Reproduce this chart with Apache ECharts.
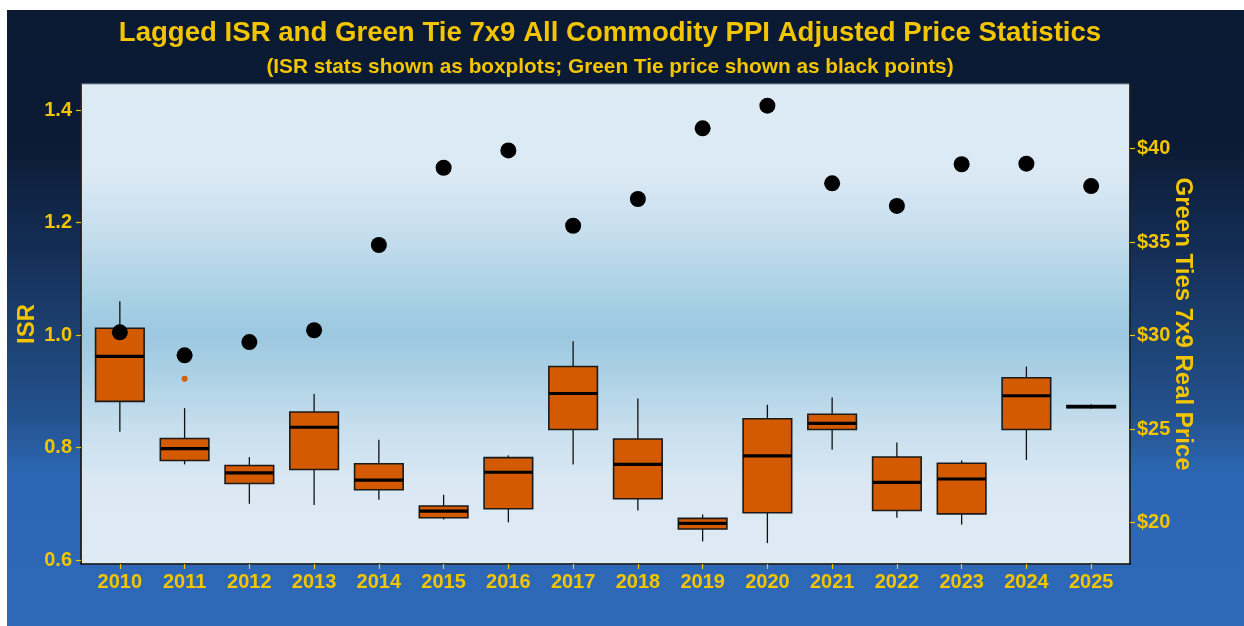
<!DOCTYPE html>
<html>
<head>
<meta charset="utf-8">
<script src="https://cdn.jsdelivr.net/npm/echarts@6/dist/echarts.min.js"></script>
<style>
  html, body { margin: 0; padding: 0; background: #ffffff; }
  #chart { width: 1244px; height: 626px; }
</style>
</head>
<body>
<div id="chart"></div>
<script>
// ---- Data ----
const years = ['2010','2011','2012','2013','2014','2015','2016','2017','2018','2019','2020','2021','2022','2023','2024','2025'];
const isrMin    = [0.828, 0.770, 0.700, 0.698, 0.707, 0.672, 0.667, 0.770, 0.688, 0.633, 0.630, 0.796, 0.675, 0.663, 0.778, 0.869];
const isrQ1     = [0.882, 0.777, 0.736, 0.761, 0.725, 0.675, 0.691, 0.832, 0.709, 0.655, 0.684, 0.832, 0.688, 0.682, 0.832, 0.8708];
const isrMedian = [0.962, 0.798, 0.755, 0.836, 0.742, 0.687, 0.756, 0.896, 0.770, 0.665, 0.785, 0.843, 0.738, 0.744, 0.892, 0.8728];
const isrQ3     = [1.012, 0.816, 0.768, 0.863, 0.771, 0.696, 0.782, 0.944, 0.815, 0.674, 0.851, 0.859, 0.783, 0.772, 0.924, 0.8748];
const isrMax    = [1.060, 0.870, 0.783, 0.895, 0.814, 0.716, 0.786, 0.989, 0.887, 0.681, 0.876, 0.889, 0.809, 0.777, 0.944, 0.877];
const outlierYears  = ['2011'];
const outlierValues = [0.922];
const greenTiePrice = [30.17, 28.94, 29.65, 30.28, 34.84, 38.97, 39.90, 35.87, 37.30, 41.08, 42.29, 38.14, 36.93, 39.16, 39.19, 37.99];
const isrTicks = [0.6, 0.8, 1.0, 1.2, 1.4];
const priceTicks = [20, 25, 30, 35, 40];

// ---- Build series data ----
const idx = years.map((_, i) => i);
const boxData = idx.map(i => [i, isrMin[i], isrQ1[i], isrMedian[i], isrQ3[i], isrMax[i]]);
const priceData = idx.map(i => [i, greenTiePrice[i]]);
const outlierData = outlierYears.map((y, k) => [years.indexOf(y), outlierValues[k]]);

const GOLD = '#F2C500';
const FONT = "'Liberation Sans', Arial, sans-serif";

const chart = echarts.init(document.getElementById('chart'), null, { renderer: 'canvas' });

const option = {
  backgroundColor: '#ffffff',
  animation: false,
  graphic: [
    {
      type: 'rect', z: -100, silent: true,
      shape: { x: 7, y: 10, width: 1237, height: 616 },
      style: {
        fill: new echarts.graphic.LinearGradient(0, 0, 0, 1, [
          { offset: 0, color: '#0B1A33' },
          { offset: 0.22, color: '#0C1B35' },
          { offset: 0.39, color: '#142E56' },
          { offset: 0.52, color: '#1C4070' },
          { offset: 0.66, color: '#24528E' },
          { offset: 0.75, color: '#2C66B3' },
          { offset: 1, color: '#2E69B8' }
        ])
      }
    }
  ],
  title: [
    {
      text: 'Lagged ISR and Green Tie 7x9 All Commodity PPI Adjusted Price Statistics',
      left: 605, top: 13, textAlign: 'center',
      textStyle: { color: GOLD, fontSize: 27.6, fontWeight: 'bold', fontFamily: FONT, lineHeight: 30 }
    },
    {
      text: '(ISR stats shown as boxplots; Green Tie price shown as black points)',
      left: 605, top: 51, textAlign: 'center',
      textStyle: { color: GOLD, fontSize: 20.8, fontWeight: 'bold', fontFamily: FONT, lineHeight: 22 }
    }
  ],
  grid: {
    left: 81, right: 114, top: 84, bottom: 62,
    show: true,
    borderColor: '#8A97A8', borderWidth: 1,
    backgroundColor: new echarts.graphic.LinearGradient(0, 0, 0, 1, [
      { offset: 0, color: '#DDEBF5' },
      { offset: 0.19, color: '#DBE9F4' },
      { offset: 0.33, color: '#C2DCEC' },
      { offset: 0.44, color: '#A9D1E6' },
      { offset: 0.52, color: '#9CC8E0' },
      { offset: 0.60, color: '#ABD0E5' },
      { offset: 0.72, color: '#C8DFEE' },
      { offset: 0.83, color: '#DAE8F3' },
      { offset: 1, color: '#DEEBF5' }
    ])
  },
  xAxis: {
    type: 'value', min: -0.6, max: 15.6,
    axisLine: { show: true, onZero: false, lineStyle: { color: '#111111', width: 1.6 } },
    axisTick: { show: true, customValues: idx, length: 5, lineStyle: { color: GOLD, width: 1.2 } },
    axisLabel: {
      customValues: idx, margin: 8,
      formatter: v => years[Math.round(v)],
      color: GOLD, fontSize: 20, fontWeight: 'bold', fontFamily: FONT
    },
    splitLine: { show: false }
  },
  yAxis: [
    {
      type: 'value', position: 'left', min: 0.5929, max: 1.4462,
      name: 'ISR', nameLocation: 'middle', nameGap: 42, nameRotate: 90, nameMoveOverlap: false,
      nameTextStyle: { color: GOLD, fontSize: 24, fontWeight: 'bold', fontFamily: FONT },
      axisLine: { show: true, onZero: false, lineStyle: { color: '#111111', width: 1.6 } },
      axisTick: { show: true, customValues: isrTicks, length: 5, lineStyle: { color: GOLD, width: 1.2 } },
      axisLabel: {
        customValues: isrTicks, margin: 9,
        formatter: v => v.toFixed(1),
        color: GOLD, fontSize: 20, fontWeight: 'bold', fontFamily: FONT
      },
      splitLine: { show: false }
    },
    {
      type: 'value', position: 'right', min: 17.78, max: 43.45,
      name: 'Green Ties 7x9 Real Price', nameLocation: 'middle', nameGap: 41, nameRotate: -90, nameMoveOverlap: false,
      nameTextStyle: { color: GOLD, fontSize: 24, fontWeight: 'bold', fontFamily: FONT },
      axisLine: { show: true, onZero: false, lineStyle: { color: '#111111', width: 1.6 } },
      axisTick: { show: true, customValues: priceTicks, length: 5, lineStyle: { color: GOLD, width: 1.2 } },
      axisLabel: {
        customValues: priceTicks, margin: 7,
        formatter: v => '$' + v,
        color: GOLD, fontSize: 20, fontWeight: 'bold', fontFamily: FONT
      },
      splitLine: { show: false }
    }
  ],
  series: [
    {
      type: 'custom', name: 'ISR',
      xAxisIndex: 0, yAxisIndex: 0,
      data: boxData,
      encode: { x: 0, y: [1, 2, 3, 4, 5] },
      z: 2,
      renderItem: function (params, api) {
        const x = api.value(0);
        const pMin = api.coord([x, api.value(1)]);
        const pQ1 = api.coord([x, api.value(2)]);
        const pMed = api.coord([x, api.value(3)]);
        const pQ3 = api.coord([x, api.value(4)]);
        const pMax = api.coord([x, api.value(5)]);
        const bw = api.size([0.75, 0])[0];
        const half = bw / 2;
        const cx = pMed[0];
        return {
          type: 'group',
          children: [
            { type: 'line', shape: { x1: cx, y1: pMax[1], x2: cx, y2: pQ3[1] }, style: { stroke: '#111', lineWidth: 1.3 } },
            { type: 'line', shape: { x1: cx, y1: pQ1[1], x2: cx, y2: pMin[1] }, style: { stroke: '#111', lineWidth: 1.3 } },
            { type: 'rect', shape: { x: cx - half, y: pQ3[1], width: bw, height: Math.max(pQ1[1] - pQ3[1], 0.5) },
              style: { fill: '#D35A00', stroke: '#1A1A1A', lineWidth: 1.6 } },
            { type: 'line', shape: { x1: cx - half, y1: pMed[1], x2: cx + half, y2: pMed[1] }, style: { stroke: '#000', lineWidth: 3.2 } }
          ]
        };
      }
    },
    {
      type: 'scatter', name: 'Outliers',
      xAxisIndex: 0, yAxisIndex: 0,
      data: outlierData,
      symbol: 'circle', symbolSize: 6,
      itemStyle: { color: '#D55E00', opacity: 1 },
      z: 3
    },
    {
      type: 'scatter', name: 'Green Tie price',
      xAxisIndex: 0, yAxisIndex: 1,
      data: priceData,
      symbol: 'circle', symbolSize: 16,
      itemStyle: { color: '#000000', opacity: 1 },
      z: 4
    }
  ]
};

chart.setOption(option);
</script>
</body>
</html>
